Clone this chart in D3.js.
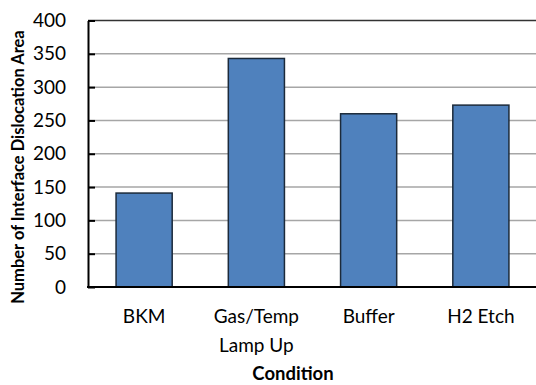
<!DOCTYPE html>
<html><head><meta charset="utf-8">
<script src="https://cdn.jsdelivr.net/npm/d3@7"></script>
<style>
html,body{margin:0;padding:0;background:#fff;overflow:hidden;}
svg{display:block;font-family:Lato,"Open Sans",sans-serif;}
</style></head>
<body>
<svg id="c" width="536" height="385"></svg>
<script>
const categories = [["BKM"], ["Gas/Temp", "Lamp Up"], ["Buffer"], ["H2 Etch"]];
const values = [141, 343, 260, 273];
const yTicks = [0, 50, 100, 150, 200, 250, 300, 350, 400];
const yTitle = "Number of Interface Dislocation Area";
const xTitle = "Condition";

const svg = d3.select("#c");
const m = {left: 88, top: 20.5, right: 536 + 1, bottom: 287};
const keys = categories.map(c => c.join(" "));
const x = d3.scaleBand().domain(keys).range([m.left, m.right]).paddingInner(0.5).paddingOuter(0.25);
const y = d3.scaleLinear().domain([0, 400]).range([m.bottom, m.top]);

// gridlines
svg.append("g").selectAll("line").data(yTicks.filter(t => t > 0)).join("line")
  .attr("x1", m.left).attr("x2", 536)
  .attr("y1", d => y(d)).attr("y2", d => y(d))
  .attr("stroke", d => d === 400 ? "#333" : "#a6a6a6")
  .attr("stroke-width", 1.5);

// bars
svg.append("g").selectAll("rect").data(values).join("rect")
  .attr("x", (d, i) => x(keys[i]))
  .attr("width", x.bandwidth())
  .attr("y", d => y(d))
  .attr("height", d => y(0) - y(d))
  .attr("fill", "#4f81bd")
  .attr("stroke", "#1c2a3a")
  .attr("stroke-width", 1.5);

// y axis
const ya = svg.append("g").attr("transform", `translate(${m.left},0)`)
  .call(d3.axisLeft(y).tickValues(yTicks).tickSize(-7).tickPadding(22).tickSizeOuter(0));
ya.select(".domain").attr("stroke", "#000").attr("stroke-width", 2);
ya.selectAll(".tick line").attr("stroke", "#000").attr("stroke-width", 2);
ya.selectAll(".tick text").attr("font-size", 19).attr("fill", "#000").attr("font-family", "Lato");

// x axis baseline
svg.append("line").attr("x1", m.left - 1).attr("x2", 536)
  .attr("y1", y(0)).attr("y2", y(0)).attr("stroke", "#000").attr("stroke-width", 2);

// category labels
const cl = svg.append("g").selectAll("text").data(categories).join("text")
  .attr("x", (d, i) => x(keys[i]) + x.bandwidth() / 2)
  .attr("y", 322.5)
  .attr("text-anchor", "middle")
  .attr("font-size", 19).attr("fill", "#000");
cl.selectAll("tspan").data(d => d).join("tspan")
  .attr("x", function() { return this.parentNode.getAttribute("x"); })
  .attr("dy", (d, i) => i === 0 ? 0 : 29.5)
  .text(d => d);

// axis titles
svg.append("text").attr("x", 293).attr("y", 380)
  .attr("text-anchor", "middle").attr("font-size", 18.5).attr("font-weight", "bold").text(xTitle);
svg.append("text").attr("transform", "translate(24,167) rotate(-90)")
  .attr("text-anchor", "middle").attr("font-size", 16.5).attr("font-weight", "bold").text(yTitle);
</script>
</body></html>
